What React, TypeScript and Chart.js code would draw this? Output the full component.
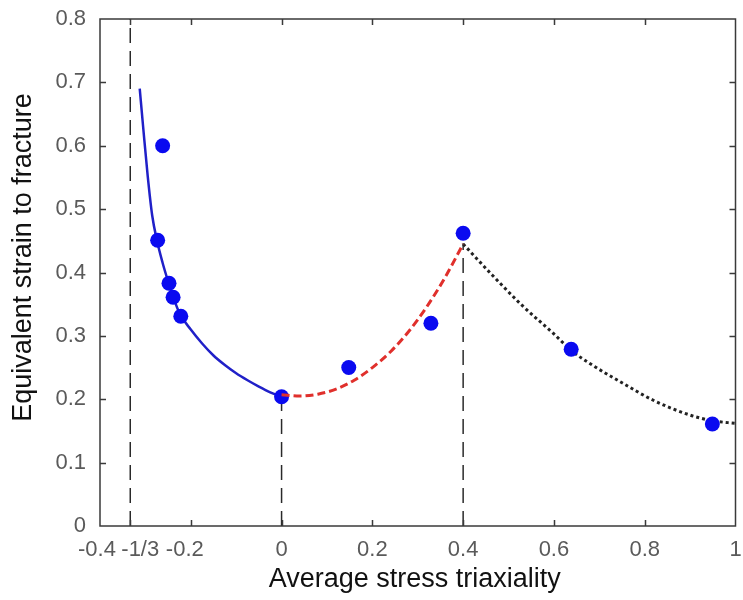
import React, { useEffect, useRef } from "react";
import { Chart, registerables } from "chart.js";

Chart.register(...registerables);

// ---- data ----
const X_TICK_VALUES = [-0.4, -1 / 3, -0.2, 0, 0.2, 0.4, 0.6, 0.8, 1];
const X_TICK_LABELS = ["-0.4", "-1/3", "-0.2", "0", "0.2", "0.4", "0.6", "0.8", "1"];
const Y_TICK_VALUES = [0, 0.1, 0.2, 0.3, 0.4, 0.5, 0.6, 0.7, 0.8];

const TEST_X = [-0.262, -0.273, -0.248, -0.239, -0.222, 0, 0.148, 0.329, 0.4, 0.638, 0.949];
const TEST_Y = [0.6, 0.451, 0.383, 0.361, 0.331, 0.204, 0.25, 0.32, 0.462, 0.279, 0.161];

const BLUE_X = [-0.3125, -0.305, -0.295, -0.285, -0.275, -0.262, -0.25, -0.24, -0.225, -0.2, -0.175, -0.15, -0.125, -0.1, -0.075, -0.05, -0.025, 0];
const BLUE_Y = [0.69, 0.63, 0.553, 0.49, 0.452, 0.415, 0.386, 0.364, 0.336, 0.31, 0.288, 0.269, 0.254, 0.241, 0.23, 0.22, 0.211, 0.204];

const RED_X = [0, 0.04, 0.08, 0.12, 0.16, 0.2, 0.24, 0.28, 0.32, 0.36, 0.4];
const RED_Y = [0.207, 0.205, 0.208, 0.216, 0.23, 0.25, 0.275, 0.307, 0.346, 0.392, 0.445];

const BLACK_X = [0.4, 0.46, 0.53, 0.6, 0.64, 0.68, 0.75, 0.82, 0.9, 0.95, 1.0];
const BLACK_Y = [0.445, 0.399, 0.348, 0.303, 0.276, 0.256, 0.226, 0.198, 0.175, 0.166, 0.162];

const VLINE_X = [-1 / 3, 0, 0.4];
const VLINE_TOP = [0.8, 0.204, 0.446];

const X_TITLE = "Average stress triaxiality";
const Y_TITLE = "Equivalent strain to fracture";

const FONT = "'Liberation Sans', Arial, Helvetica, sans-serif";

const pts = (xs: number[], ys: number[]) => xs.map((x, i) => ({ x, y: ys[i] }));

const zeroPad = (axis: any) => {
  axis.paddingTop = 0;
  axis.paddingBottom = 0;
  axis.paddingLeft = 0;
  axis.paddingRight = 0;
};

const decorPlugin = {
  id: "decor",
  afterDraw(chart: any) {
    const { ctx, chartArea: a, scales } = chart;
    const xs = scales.x;
    const ys = scales.y;
    ctx.save();
    // frame
    ctx.strokeStyle = "#3a3a3a";
    ctx.lineWidth = 1.5;
    ctx.setLineDash([]);
    ctx.strokeRect(a.left, a.top, a.right - a.left, a.bottom - a.top);
    // inward tick marks
    const TL = 6;
    ctx.beginPath();
    X_TICK_VALUES.forEach((v) => {
      const px = Math.round(xs.getPixelForValue(v)) + 0.5;
      if (px <= a.left + 1 || px >= a.right - 1) return;
      ctx.moveTo(px, a.bottom);
      ctx.lineTo(px, a.bottom - TL);
      ctx.moveTo(px, a.top);
      ctx.lineTo(px, a.top + TL);
    });
    Y_TICK_VALUES.forEach((v) => {
      const py = Math.round(ys.getPixelForValue(v)) + 0.5;
      if (py <= a.top + 1 || py >= a.bottom - 1) return;
      ctx.moveTo(a.left, py);
      ctx.lineTo(a.left + TL, py);
      ctx.moveTo(a.right, py);
      ctx.lineTo(a.right - TL, py);
    });
    ctx.stroke();
    // x tick labels (crowded near the left, nudged apart like the reference)
    const nudge: Record<string, number> = { "-0.4": -3, "-1/3": 10, "-0.2": -6 };
    ctx.fillStyle = "#5a5a5a";
    ctx.font = `22px ${FONT}`;
    ctx.textAlign = "center";
    ctx.textBaseline = "middle";
    X_TICK_VALUES.forEach((v, i) => {
      const lab = X_TICK_LABELS[i];
      ctx.fillText(lab, xs.getPixelForValue(v) + (nudge[lab] || 0), a.bottom + 24);
    });
    // axis titles
    ctx.fillStyle = "#111";
    ctx.font = `27px ${FONT}`;
    ctx.fillText(X_TITLE, (a.left + a.right) / 2 - 3, a.bottom + 54);
    ctx.save();
    ctx.translate(24, (a.top + a.bottom) / 2 - 15);
    ctx.rotate(-Math.PI / 2);
    ctx.fillText(Y_TITLE, 0, 0);
    ctx.restore();
    ctx.restore();
  },
};

export default function App() {
  const ref = useRef<HTMLCanvasElement | null>(null);

  useEffect(() => {
    if (!ref.current) return;
    const vlines = VLINE_X.map((x, i) => ({
      type: "scatter" as const,
      data: [
        { x, y: 0 },
        { x, y: VLINE_TOP[i] },
      ],
      showLine: true,
      borderColor: "#2a2a2a",
      borderWidth: 1.5,
      borderDash: [15, 8],
      pointRadius: 0,
      order: 10 + i,
    }));
    const chart = new Chart(ref.current, {
      type: "scatter",
      data: {
        datasets: [
          {
            data: pts(RED_X, RED_Y),
            showLine: true,
            borderColor: "#e0302c",
            borderWidth: 3,
            borderDash: [8, 4],
            pointRadius: 0,
            cubicInterpolationMode: "monotone",
            order: 1,
          } as any,
          {
            data: pts(TEST_X, TEST_Y),
            showLine: false,
            pointRadius: 7.5,
            pointBackgroundColor: "#0a0af0",
            pointBorderWidth: 0,
            pointBorderColor: "#0a0af0",
            order: 2,
          },
          {
            data: pts(BLUE_X, BLUE_Y),
            showLine: true,
            borderColor: "#2020c8",
            borderWidth: 2.5,
            pointRadius: 0,
            cubicInterpolationMode: "monotone",
            order: 3,
          } as any,
          {
            data: pts(BLACK_X, BLACK_Y),
            showLine: true,
            borderColor: "#222",
            borderWidth: 3,
            borderDash: [3, 3],
            pointRadius: 0,
            cubicInterpolationMode: "monotone",
            order: 4,
          } as any,
          ...vlines,
        ],
      },
      options: {
        animation: false,
        responsive: false,
        events: [],
        layout: { padding: { left: 0, right: 3, top: 19, bottom: 0 } },
        plugins: { legend: { display: false }, tooltip: { enabled: false } },
        scales: {
          x: {
            type: "linear",
            min: -0.4,
            max: 1,
            offset: false,
            grid: { display: false, drawTicks: false },
            border: { display: false },
            ticks: { display: false },
            afterFit: (axis: any) => {
              axis.height = 74;
              zeroPad(axis);
            },
          },
          y: {
            type: "linear",
            min: 0,
            max: 0.8,
            grid: { display: false, drawTicks: false },
            border: { display: false },
            ticks: {
              stepSize: 0.1,
              padding: 14,
              color: "#5a5a5a",
              font: { family: FONT, size: 22 },
              callback: (v: any) => String(Math.round(Number(v) * 10) / 10),
            },
            afterFit: (axis: any) => {
              axis.width = 100;
              zeroPad(axis);
            },
          },
        },
      },
      plugins: [decorPlugin],
    });
    return () => chart.destroy();
  }, []);

  return (
    <div style={{ position: "absolute", left: 0, top: 0, width: 743, height: 600, background: "#fff" }}>
      <canvas ref={ref} width={743} height={600} style={{ display: "block" }} />
    </div>
  );
}
